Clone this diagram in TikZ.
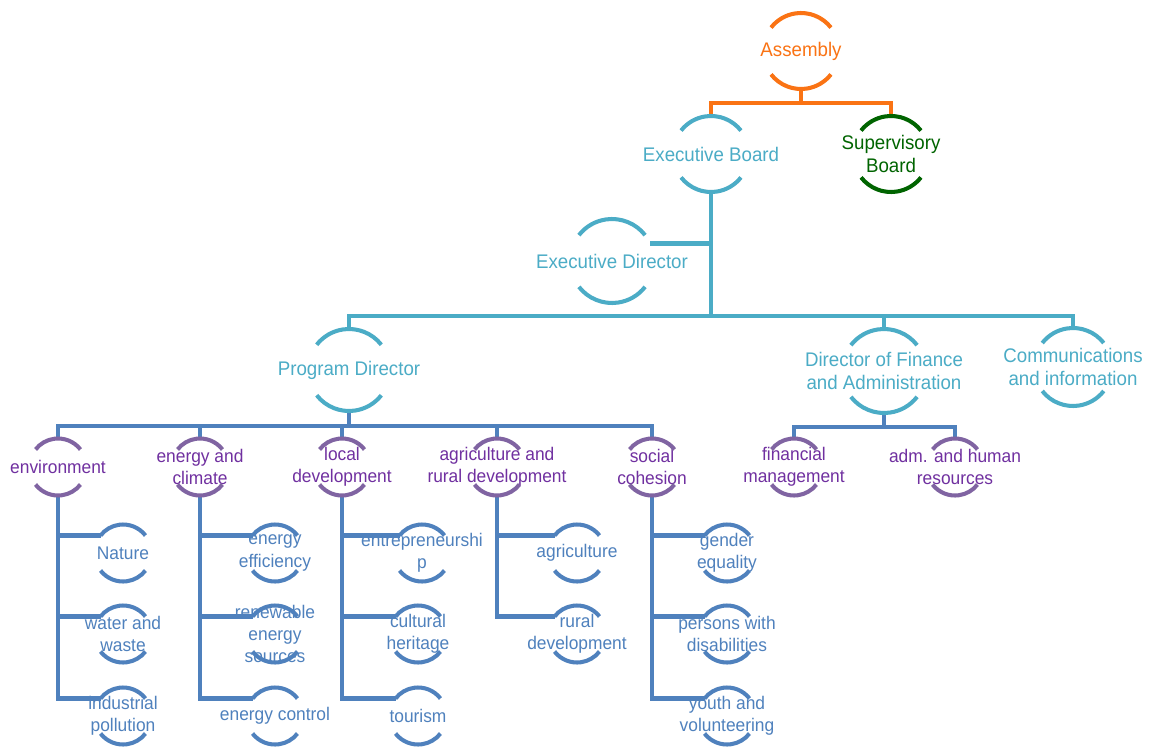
\documentclass[tikz,border=0pt]{standalone}
\usepackage{fontspec}
\setmainfont{Liberation Sans}[FakeStretch=0.95]
\usepackage{tikz}
\definecolor{orgorange}{RGB}{250,115,20}
\definecolor{orgteal}{RGB}{75,172,198}
\definecolor{orggreen}{RGB}{0,100,0}
\definecolor{orgpurple}{RGB}{128,100,162}
\definecolor{orgviolet}{RGB}{112,48,160}
\definecolor{orgblue}{RGB}{79,129,189}
\tikzset{
  bigunit/.style 2 args={
    circle,
    inner sep=0pt, outer sep=0pt,
    label={[align=center, text=#1, font=\fontsize{11.2}{12.6}\selectfont]center:#2}},
  smallunit/.style 2 args={
    circle,
    inner sep=0pt, outer sep=0pt,
    minimum size=1.14cm,
    label={[align=center, text=#1, font=\fontsize{10.4}{12.7}\selectfont]center:#2}},
  arcline/.style={line width=2.3pt},
  link/.style={line width=2.8pt},
}

\begin{document}
\begin{tikzpicture}
  \fill[white] (0,0) rectangle (23,-14.98);
  \useasboundingbox (0,0) rectangle (23,-14.98);
     % top of the chart
     \node[bigunit={orgorange}{Assembly}, minimum size=1.52cm] (Assembly) at (16.02,-1.02) {};
     \node[bigunit={orgteal}{Executive Board}, minimum size=1.52cm] (ExecutiveBoard) at (14.22,-3.08) {};
     \node[bigunit={orggreen}{Supervisory\\Board}, minimum size=1.52cm] (SupervisoryBoard) at (17.82,-3.08) {};
     \node[bigunit={orgteal}{Executive Director}, minimum size=1.68cm] (ExecutiveDirector) at (12.24,-5.22) {};
     \node[bigunit={orgteal}{Program Director}, minimum size=1.64cm] (ProgramDirector) at (6.98,-7.40) {};
     \node[bigunit={orgteal}{Director of Finance\\and Administration}, minimum size=1.68cm] (FinanceDirector) at (17.68,-7.42) {};
     \node[bigunit={orgteal}{Communications\\and information}, minimum size=1.56cm] (Communications) at (21.46,-7.34) {};
     % departments
     \node[smallunit={orgviolet}{environment}] (Environment) at (1.16,-9.34) {};
     \node[smallunit={orgviolet}{energy and\\climate}] (EnergyClimate) at (4.00,-9.34) {};
     \node[smallunit={orgviolet}{local\\development}] (LocalDevelopment) at (6.84,-9.34) {};
     \node[smallunit={orgviolet}{agriculture and\\rural development}] (AgriRural) at (9.94,-9.34) {};
     \node[smallunit={orgviolet}{social\\cohesion}] (SocialCohesion) at (13.04,-9.34) {};
     \node[smallunit={orgviolet}{financial\\management}] (FinancialManagement) at (15.88,-9.34) {};
     \node[smallunit={orgviolet}{adm. and human\\resources}] (HumanResources) at (19.10,-9.34) {};
     % sections
     \node[smallunit={orgblue}{Nature}] (Nature) at (2.46,-11.06) {};
     \node[smallunit={orgblue}{water and\\waste}] (WaterWaste) at (2.46,-12.68) {};
     \node[smallunit={orgblue}{industrial\\pollution}] (IndustrialPollution) at (2.46,-14.32) {};
     \node[smallunit={orgblue}{energy\\efficiency}] (EnergyEfficiency) at (5.50,-11.06) {};
     \node[smallunit={orgblue}{renewable\\energy\\sources}] (RenewableEnergy) at (5.50,-12.68) {};
     \node[smallunit={orgblue}{energy control}] (EnergyControl) at (5.50,-14.32) {};
     \node[smallunit={orgblue}{entrepreneurshi\\p}] (Entrepreneurship) at (8.44,-11.06) {};
     \node[smallunit={orgblue}{cultural\\heritage}] (CulturalHeritage) at (8.36,-12.68) {};
     \node[smallunit={orgblue}{tourism}] (Tourism) at (8.36,-14.32) {};
     \node[smallunit={orgblue}{agriculture}] (Agriculture) at (11.54,-11.06) {};
     \node[smallunit={orgblue}{rural\\development}] (RuralDevelopment) at (11.54,-12.68) {};
     \node[smallunit={orgblue}{gender\\equality}] (GenderEquality) at (14.54,-11.06) {};
     \node[smallunit={orgblue}{persons with\\disabilities}] (Disabilities) at (14.54,-12.68) {};
     \node[smallunit={orgblue}{youth and\\volunteering}] (Youth) at (14.54,-14.32) {};

     % connectors
     \draw[link, orgorange] (Assembly.south) -- ++(0,-0.28) -| (ExecutiveBoard.north);
     \draw[link, orgorange] (Assembly.south) -- ++(0,-0.28) -| (SupervisoryBoard.north);
     \draw[link, orgteal] (ExecutiveBoard.south) -- ++(0,-2.48) coordinate (MainBus);
     \draw[link, orgteal] (ExecutiveDirector.24) -- (ExecutiveDirector.24 -| ExecutiveBoard.south);
     \foreach \n in {ProgramDirector, FinanceDirector, Communications}
       \draw[link, orgteal] (MainBus) -| (\n.north);
     \draw[link, orgblue] (ProgramDirector.south) -- ++(0,-0.30) coordinate (ProgramBus);
     \foreach \n in {Environment, EnergyClimate, LocalDevelopment, AgriRural, SocialCohesion}
       \draw[link, orgblue] (ProgramBus) -| (\n.north);
     \draw[link, orgblue] (FinanceDirector.south) -- ++(0,-0.28) coordinate (FinanceBus);
     \foreach \n in {FinancialManagement, HumanResources}
       \draw[link, orgblue] (FinanceBus) -| (\n.north);
     \foreach \p/\k in {Environment/Nature, Environment/WaterWaste, Environment/IndustrialPollution,
                        EnergyClimate/EnergyEfficiency, EnergyClimate/RenewableEnergy, EnergyClimate/EnergyControl,
                        LocalDevelopment/Entrepreneurship, LocalDevelopment/CulturalHeritage, LocalDevelopment/Tourism,
                        AgriRural/Agriculture, AgriRural/RuralDevelopment,
                        SocialCohesion/GenderEquality, SocialCohesion/Disabilities, SocialCohesion/Youth}
       \draw[link, orgblue] (\p.south) |- (\k.142);

     % the two arcs of every unit
     \foreach \n/\col/\rad in {Assembly/orgorange/0.76, ExecutiveBoard/orgteal/0.76, SupervisoryBoard/orggreen/0.76,
                               ExecutiveDirector/orgteal/0.84, ProgramDirector/orgteal/0.82,
                               FinanceDirector/orgteal/0.84, Communications/orgteal/0.78,
                               Environment/orgpurple/0.57, EnergyClimate/orgpurple/0.57, LocalDevelopment/orgpurple/0.57,
                               AgriRural/orgpurple/0.57, SocialCohesion/orgpurple/0.57,
                               FinancialManagement/orgpurple/0.57, HumanResources/orgpurple/0.57,
                               Nature/orgblue/0.57, WaterWaste/orgblue/0.57, IndustrialPollution/orgblue/0.57,
                               EnergyEfficiency/orgblue/0.57, RenewableEnergy/orgblue/0.57, EnergyControl/orgblue/0.57,
                               Entrepreneurship/orgblue/0.57, CulturalHeritage/orgblue/0.57, Tourism/orgblue/0.57,
                               Agriculture/orgblue/0.57, RuralDevelopment/orgblue/0.57,
                               GenderEquality/orgblue/0.57, Disabilities/orgblue/0.57, Youth/orgblue/0.57}
       \draw[arcline, draw=\col] (\n.38) arc[start angle=38, end angle=142, radius=\rad]
                                 (\n.218) arc[start angle=218, end angle=322, radius=\rad];
\end{tikzpicture}
\end{document}
